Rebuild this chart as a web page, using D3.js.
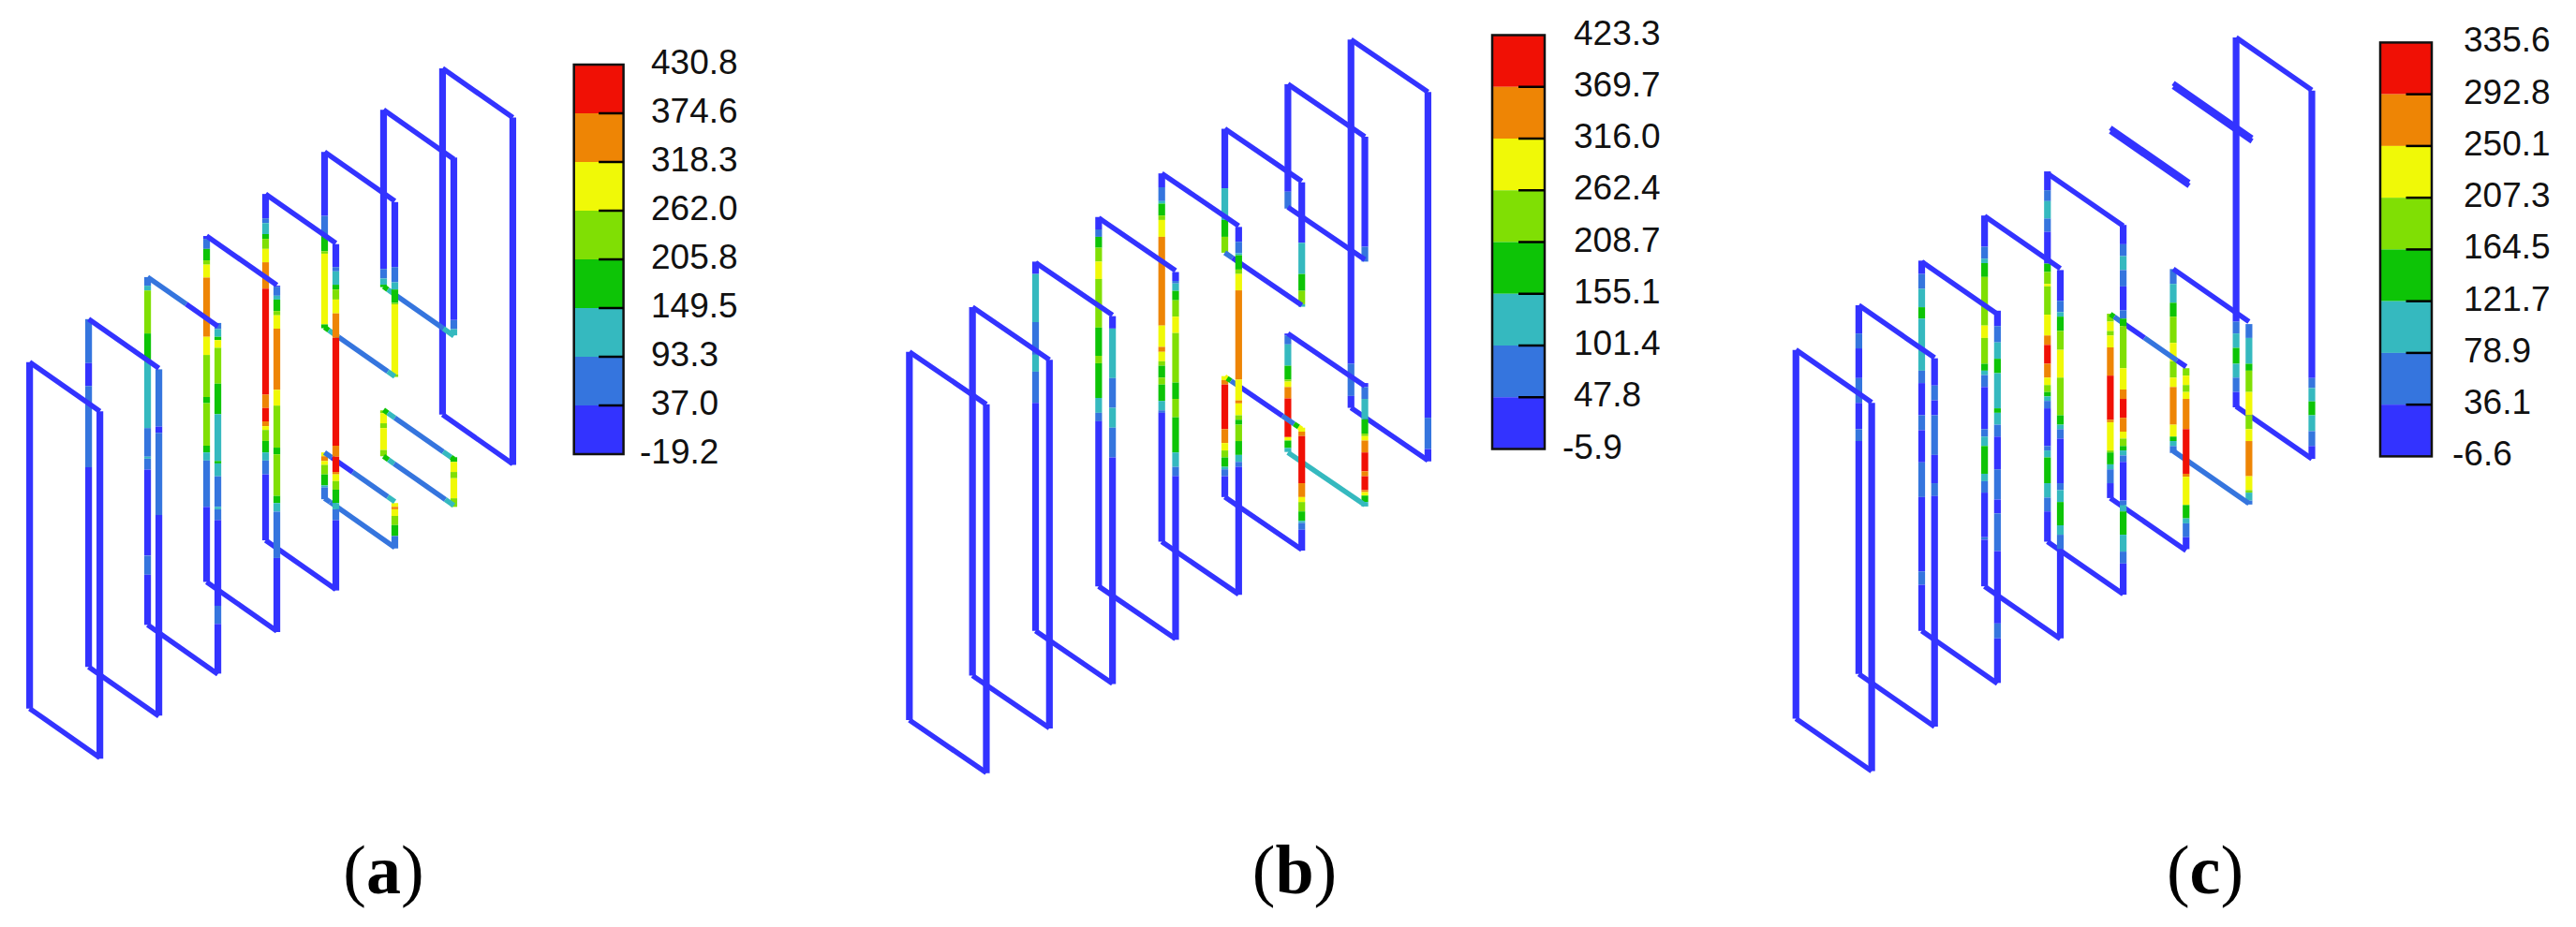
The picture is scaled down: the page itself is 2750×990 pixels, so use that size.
<!DOCTYPE html>
<html><head><meta charset="utf-8">
<script src="https://cdn.jsdelivr.net/npm/d3@7/dist/d3.min.js"></script>
<style>html,body{margin:0;background:#fff}svg{display:block}</style></head>
<body><svg id="c" width="2750" height="990"></svg>
<script>
// Colour bands, low to high
const bandColors = ["#3333FF","#3575DE","#35B9BF","#0DC406","#80DF04","#F0F907","#EE8505","#F01005"];

// Legend tick labels, top to bottom
const ticksA = ["430.8","374.6","318.3","262.0","205.8","149.5","93.3","37.0","-19.2"];
const ticksB = ["423.3","369.7","316.0","262.4","208.7","155.1","101.4","47.8","-5.9"];
const ticksC = ["335.6","292.8","250.1","207.3","164.5","121.7","78.9","36.1","-6.6"];

// Rails: [frame, side (0 left, 1 right), start station, [end station, band]...]
const railsA = [
 [0,0,660,[1385,0]],[0,1,763,[1490,0]],
 [1,0,570,[662,1],[710,0],[880,1],[1298,0]],
 [1,1,675,[795,1],[808,0],[980,1],[1400,0]],
 [2,0,482,[500,1],[510,2],[600,4],[660,3],[798,2],[858,1],[862,2],[885,1],[1065,0],[1105,1],[1210,0]],
 [2,1,578,[591,1],[607,2],[614,3],[630,5],[705,4],[769,3],[867,2],[872,3],[899,2],[963,1],[968,2],[991,1],[1170,0],[1208,1],[1312,0]],
 [3,0,396,[402,0],[423,1],[447,3],[456,4],[483,5],[607,6],[645,5],[733,4],[746,3],[835,4],[849,3],[866,2],[963,1],[1120,0]],
 [3,1,500,[502,0],[521,1],[529,2],[553,3],[562,4],[590,5],[718,6],[751,5],[839,4],[853,3],[940,4],[955,3],[973,2],[1070,1],[1225,0]],
 [4,0,308,[359,0],[369,1],[392,2],[402,3],[423,4],[451,5],[506,6],[728,7],[756,6],[784,7],[794,6],[802,5],[825,4],[849,3],[866,2],[895,1],[1033,0]],
 [4,1,413,[461,0],[470,1],[498,2],[508,3],[529,4],[558,5],[609,6],[835,7],[858,6],[890,7],[895,6],[909,5],[927,4],[955,3],[968,2],[991,1],[1138,0]],
 [5,0,220,[354,0],[392,1],[428,3],[433,4],[581,5],[589,3]],
 [5,0,849,[857,5],[867,6],[875,5],[895,4],[918,3],[922,2],[947,1]],
 [5,1,325,[461,0],[493,1],[508,2],[536,3],[539,4],[686,5],[691,4]],
 [5,1,955,[963,5],[968,6],[982,5],[1001,4],[1024,3],[1050,1]],
 [6,0,132,[465,0],[485,1],[498,2],[503,3]],
 [6,0,761,[767,4],[788,5],[798,4],[844,5],[857,4]],
 [6,1,232,[572,0],[591,1],[604,2]],
 [6,1,859,[869,3],[890,5],[903,4],[945,5],[963,4]],
 [7,0,45,[770,0]],[7,1,148,[875,0]]
];
// Rungs: [frame, station at the left rail, [fraction, band]...]
const rungsA = [
 [0,660,[1,0]],[0,1385,[1,0]],[1,570,[1,0]],[1,1298,[1,0]],
 [2,482,[.55,1],[1,0]],[2,1210,[1,0]],[3,396,[1,0]],[3,1120,[1,0]],
 [4,308,[1,0]],[4,1033,[1,0]],
 [5,220,[1,0]],[5,587,[.06,3],[.2,2],[.9,1],[1,2]],
 [5,849,[.1,1],[.4,0],[.9,1],[1,2]],[5,945,[.08,1],[1,1]],
 [6,132,[1,0]],[6,502,[.06,3],[.15,2],[.85,1],[1,2]],
 [6,760,[.06,3],[.16,2],[.85,1],[.96,2],[1,3]],[6,857,[.07,3],[.15,2],[.88,1],[1,2]],
 [7,45,[1,0]],[7,770,[1,0]]
];

const railsB = [
 [0,0,672,[1415,0]],[0,1,778,[1522,0]],[1,0,582,[1325,0]],[1,1,688,[1432,0]],
 [2,0,490,[515,0],[612,2],[678,1],[712,2],[775,1],[1235,0]],
 [2,1,600,[625,0],[725,2],[785,1],[825,2],[885,1],[1342,0]],
 [3,0,400,[425,0],[440,1],[462,3],[490,4],[525,5],[623,4],[680,3],[695,4],[765,3],[795,2],[812,1],[1145,0]],
 [3,1,511,[529,0],[534,1],[549,2],[568,3],[601,4],[634,5],[734,4],[767,3],[804,4],[875,3],[904,2],[923,1],[1253,0]],
 [4,0,312,[340,0],[368,1],[373,2],[397,3],[406,4],[440,5],[619,6],[662,5],[672,6],[691,5],[700,4],[724,3],[738,4],[771,3],[790,2],[795,1],[1055,0]],
 [4,1,420,[450,0],[473,1],[477,2],[506,3],[515,4],[548,5],[728,6],[770,5],[776,6],[800,5],[809,4],[819,3],[852,4],[880,3],[894,2],[904,1],[1162,0]],
 [5,0,222,[342,0],[406,2],[440,3],[472,4]],
 [5,0,721,[729,5],[738,6],[828,7],[856,6],[871,5],[885,4],[904,3],[909,2],[923,1],[965,0]],
 [5,1,330,[452,0],[515,2],[549,3],[576,4],[581,2]],
 [5,1,825,[833,5],[842,6],[937,7],[965,6],[975,5],[994,4],[1013,3],[1017,2],[1031,1],[1073,0]],
 [6,0,132,[349,0],[383,1]],
 [6,0,635,[639,0],[657,1],[700,2],[728,3],[732,4],[743,5],[766,6],[844,7],[851,5],[866,3],[874,2]],
 [6,1,238,[460,0],[490,1]],
 [6,1,735,[743,0],[767,1],[808,2],[837,3],[842,4],[851,5],[875,6],[913,7],[923,6],[951,7],[955,6],[962,5],[975,3],[984,2]],
 [7,0,42,[696,0],[761,1],[785,0]],
 [7,1,148,[805,0],[868,1],[893,0]]
];
const rungsB = [
 [0,672,[1,0]],[0,1415,[1,0]],[1,582,[1,0]],[1,1325,[1,0]],[2,492,[1,0]],[2,1235,[1,0]],
 [3,402,[1,0]],[3,1145,[1,0]],[4,312,[1,0]],[4,1055,[1,0]],
 [5,222,[1,0]],[5,472,[.1,1],[1,0]],[5,722,[.03,5],[.08,3],[.18,1],[.75,0],[.9,1],[.96,3],[1,5]],[5,965,[1,0]],
 [6,132,[1,0]],[6,380,[1,0]],[6,635,[1,0]],[6,875,[1,2]],
 [7,42,[1,0]],[7,785,[1,0]]
];

const railsC = [
 [0,0,668,[1412,0]],[0,1,775,[1518,0]],
 [1,0,578,[635,0],[665,1],[725,0],[775,1],[828,0],[852,1],[1322,0]],
 [1,1,685,[740,0],[770,1],[800,0],[880,1],[937,0],[963,1],[1428,0]],
 [2,0,488,[515,0],[545,1],[582,2],[605,3],[710,2],[735,1],[800,0],[830,1],[895,0],[965,1],[1115,0],[1142,1],[1235,0]],
 [2,1,589,[620,0],[653,1],[686,2],[715,3],[786,2],[795,3],[819,2],[843,1],[909,0],[970,1],[998,0],[1074,1],[1220,0],[1250,1],[1340,0]],
 [3,0,397,[460,0],[484,1],[493,2],[521,3],[619,4],[644,5],[696,4],[710,3],[719,2],[743,1],[828,0],[843,1],[862,2],[918,3],[933,2],[956,1],[1046,0],[1051,1],[1145,0]],
 [3,1,507,[569,0],[592,1],[601,2],[630,3],[668,4],[724,5],[800,4],[819,3],[828,2],[847,1],[937,0],[951,1],[975,2],[1022,3],[1041,2],[1070,1],[1250,0]],
 [4,0,308,[346,0],[368,1],[403,2],[430,1],[494,0],[511,3],[535,4],[540,5],[597,4],[639,5],[658,6],[696,7],[724,6],[739,5],[753,4],[762,3],[771,2],[786,1],[862,0],[871,1],[885,2],[937,3],[966,2],[994,1],[1055,0]],
 [4,1,416,[455,0],[479,1],[507,2],[540,1],[588,0],[605,1],[620,3],[705,4],[748,5],[767,6],[805,7],[833,6],[847,5],[862,4],[871,3],[881,2],[894,1],[972,0],[981,1],[994,2],[1041,3],[1075,2],[1099,1],[1162,0]],
 [5,0,595,[611,4],[630,5],[639,4],[663,5],[720,6],[809,7],[814,6],[871,5],[875,4],[899,3],[909,2],[937,1],[967,0]],
 [5,1,705,[720,4],[739,5],[753,4],[767,5],[828,6],[918,7],[924,6],[981,5],[1008,3],[1018,2],[1046,1],[1070,0]],
 [6,0,505,[535,1],[573,2],[601,3],[654,4],[691,5],[724,4],[743,5],[819,6],[843,5],[852,3],[862,2],[876,1]],
 [6,1,616,[644,1],[696,2],[710,3],[753,4],[800,5],[828,4],[852,5],[923,6],[951,5],[956,4],[972,2],[980,1]],
 [7,0,38,[611,0],[635,1],[664,2],[696,3],[724,2],[753,1],[784,0]],
 [7,1,145,[725,0],[745,1],[772,2],[800,3],[832,2],[862,1],[888,0]]
];
const rungsC = [
 [0,668,[1,0]],[0,1412,[1,0]],[1,578,[1,0]],[1,1322,[1,0]],[2,490,[1,0]],[2,1235,[1,0]],
 [3,398,[1,0]],[3,1145,[1,0]],[4,312,[1,0]],[4,1055,[1,0]],
 [5,220,[1.04,0]],[5,227,[1.04,0]],[5,596,[.05,3],[.15,1],[.45,0],[.88,1],[1,0]],[5,967,[1,0]],
 [6,130,[1.04,0]],[6,137,[1.04,0]],[6,505,[1,0]],[6,872,[1,1]],
 [7,38,[1,0]],[7,782,[1,0]]
];

const captions = ["a","b","c"];

// Layout only: reading units of each panel, mapped through scales to the page.
const layouts = [
 {ox:0,oy:50,sx:1.96,sy:1.96,left:[62,926],width:147,skew:103,box:[612.7,665.6,69,485],labelX:695,capX:409.5,
  ticks:ticksA,rails:railsA,rungs:rungsA},
 {ox:930,oy:20,sx:1.96,sy:1.889,left:[80,1004],width:161,skew:106,box:[1593,1649,37.5,479.5],labelX:1680,capX:1382,
  ticks:ticksB,rails:railsB,rungs:rungsB},
 {ox:1880,oy:20,sx:1.96,sy:1.889,left:[73,994],width:158.5,skew:106,box:[2541,2596,45.4,487.4],labelX:2630,capX:2354,
  ticks:ticksC,rails:railsC,rungs:rungsC}
];

const svg = d3.select("#c");
const color = d3.scaleOrdinal(d3.range(bandColors.length), bandColors);
const railW = 7.2, rungW = 5.5;

layouts.forEach((L,pi)=>{
  const g = svg.append("g");
  const x = d3.scaleLinear().domain([0,2750*L.sx]).range([L.ox,L.ox+2750]);
  const y = d3.scaleLinear().domain([0,990*L.sy]).range([L.oy,L.oy+990]);
  const frameX = d3.scaleLinear().domain([0,7]).range(L.left);

  // farthest frame first, so nearer frames sit on top
  d3.range(7,-1,-1).forEach(f=>{
    const fg = g.append("g");
    L.rails.filter(r=>r[0]===f).forEach(r=>{
      const rx = x(frameX(f)+r[1]*L.width);
      let prev = r[2];
      r.slice(3).forEach(([end,band])=>{
        fg.append("line").attr("x1",rx).attr("x2",rx)
          .attr("y1",y(prev)).attr("y2",y(end))
          .attr("stroke",color(band)).attr("stroke-width",railW);
        prev = end;
      });
    });
    L.rungs.filter(r=>r[0]===f).forEach(r=>{
      const u0 = frameX(f), v0 = r[1];
      let t0 = 0;
      r.slice(2).forEach(([t1,band])=>{
        fg.append("line")
          .attr("x1",x(u0+t0*L.width)).attr("y1",y(v0+t0*L.skew))
          .attr("x2",x(u0+t1*L.width)).attr("y2",y(v0+t1*L.skew))
          .attr("stroke",color(band)).attr("stroke-width",rungW);
        t0 = t1;
      });
    });
  });

  // legend
  const [bx0,bx1,by0,by1] = L.box;
  const ly = d3.scaleLinear().domain([0,L.ticks.length-1]).range([by0,by1]);
  const lg = svg.append("g");
  d3.range(L.ticks.length-1).forEach(i=>{
    lg.append("rect").attr("x",bx0).attr("width",bx1-bx0)
      .attr("y",ly(i)).attr("height",ly(i+1)-ly(i))
      .attr("fill",color(bandColors.length-1-i));
  });
  lg.append("rect").attr("x",bx0).attr("y",by0).attr("width",bx1-bx0).attr("height",by1-by0)
    .attr("fill","none").attr("stroke","#111").attr("stroke-width",2.5);
  d3.range(1,L.ticks.length-1).forEach(i=>{
    lg.append("line").attr("x1",(bx0+bx1)/2).attr("x2",bx1)
      .attr("y1",ly(i)).attr("y2",ly(i)).attr("stroke","#000").attr("stroke-width",2.5);
  });
  L.ticks.forEach((t,i)=>{
    lg.append("text").attr("x",L.labelX-(t[0]==="-"?12:0)).attr("y",ly(i)+10)
      .attr("font-family","'Liberation Sans',Arial,sans-serif").attr("font-size",37)
      .attr("fill","#111").text(t);
  });

  // caption
  const cap = svg.append("text").attr("x",L.capX).attr("y",954).attr("text-anchor","middle")
    .attr("font-family","'Liberation Serif','Times New Roman',serif").attr("font-size",74).attr("fill","#000");
  cap.append("tspan").text("(");
  cap.append("tspan").attr("font-weight","bold").text(captions[pi]);
  cap.append("tspan").text(")");
});
</script></body></html>
